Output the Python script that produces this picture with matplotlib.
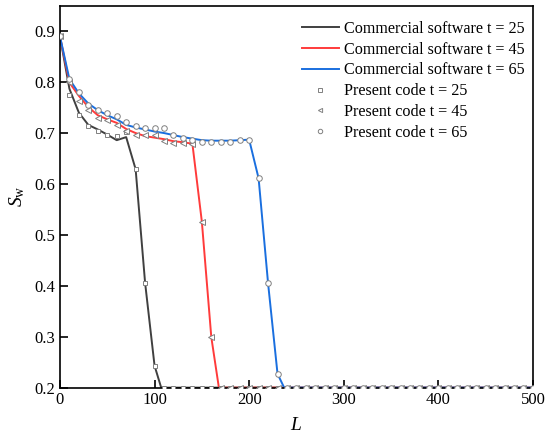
import matplotlib
matplotlib.use("Agg")
import matplotlib.pyplot as plt
from matplotlib.ticker import MultipleLocator

plt.rcParams["font.family"] = ["Liberation Serif", "DejaVu Serif"]
plt.rcParams["mathtext.fontset"] = "custom"
plt.rcParams["mathtext.rm"] = "Liberation Serif"
plt.rcParams["mathtext.it"] = "Liberation Serif:italic"

# --- commercial software (lines) ---
L_t25 = [0, 10, 20, 30, 40, 50, 60, 70, 80, 90, 100, 107, 500]
S_t25 = [0.89, 0.787, 0.740, 0.716, 0.707, 0.697, 0.686, 0.692, 0.629, 0.406, 0.243, 0.2, 0.2]

L_t45 = [0, 10, 20, 30, 40, 50, 60, 70, 80, 90, 100, 110, 120, 130, 140, 150, 160, 168, 500]
S_t45 = [0.89, 0.799, 0.773, 0.751, 0.735, 0.727, 0.720, 0.708, 0.700, 0.694, 0.691,
         0.688, 0.684, 0.682, 0.679, 0.526, 0.299, 0.2, 0.2]

L_t65 = [0, 10, 20, 30, 40, 50, 60, 70, 80, 90, 100, 110, 120, 130, 140, 150, 160, 170,
         180, 190, 200, 210, 220, 230, 237, 500]
S_t65 = [0.89, 0.806, 0.778, 0.758, 0.745, 0.735, 0.727, 0.716, 0.711, 0.707, 0.703,
         0.700, 0.696, 0.692, 0.689, 0.686, 0.685, 0.685, 0.685, 0.686, 0.687, 0.611,
         0.405, 0.227, 0.2, 0.2]

# --- present code (markers), every 10 units from 0 to 500 ---
L_code = list(range(0, 510, 10))
S_code_t25 = [0.89, 0.774, 0.735, 0.714, 0.705, 0.697, 0.695, 0.702, 0.629, 0.406, 0.243] + [0.2] * 40
S_code_t45 = [0.89, 0.800, 0.763, 0.745, 0.730, 0.725, 0.716, 0.705, 0.697, 0.697, 0.697,
              0.684, 0.681, 0.681, 0.679, 0.526, 0.299] + [0.2] * 34
S_code_t65 = [0.89, 0.806, 0.781, 0.756, 0.746, 0.739, 0.733, 0.722, 0.714, 0.709, 0.709,
              0.709, 0.697, 0.691, 0.686, 0.683, 0.682, 0.683, 0.682, 0.686, 0.686, 0.611,
              0.405, 0.227] + [0.2] * 27

fig = plt.figure(figsize=(5.5, 4.44), dpi=100)
ax = fig.add_axes([0.109, 0.127, 0.86, 0.86])

ax.plot(L_t25, S_t25, color="#404040", lw=1.4, label="Commercial software t = 25", zorder=2)
ax.plot(L_t45, S_t45, color="#ff3b3b", lw=1.4, label="Commercial software t = 45", zorder=2)
ax.plot(L_t65, S_t65, color="#1a6fdf", lw=1.4, label="Commercial software t = 65", zorder=2)

mk = dict(ls="none", mfc="white", mec="#808080", mew=0.7, zorder=3)
ax.plot(L_code, S_code_t25, marker="s", ms=3.2, label="Present code t = 25", **mk)
ax.plot(L_code, S_code_t45, marker="<", ms=3.8, label="Present code t = 45", **mk)
ax.plot(L_code, S_code_t65, marker="o", ms=4.0, label="Present code t = 65", **mk)

ax.set_xlim(0, 500)
ax.set_ylim(0.2, 0.95)
ax.xaxis.set_major_locator(MultipleLocator(100))
ax.yaxis.set_major_locator(MultipleLocator(0.1))
ax.tick_params(direction="in", length=5.5, width=1.2, labelsize=12, top=False, right=False)
for s in ax.spines.values():
    s.set_linewidth(1.2)

ax.set_xlabel(r"$L$", fontsize=14, labelpad=6)
ax.set_ylabel(r"$S_{\mathrm{w}}$", fontsize=14, labelpad=5)

ax.legend(loc="upper right", frameon=False, fontsize=11.6, handlelength=2.3,
          handletextpad=0.35, labelspacing=0.3, borderaxespad=0.1,
          markerscale=0.8, bbox_to_anchor=(1.0, 0.982))

fig.savefig("out.png", dpi=100)
